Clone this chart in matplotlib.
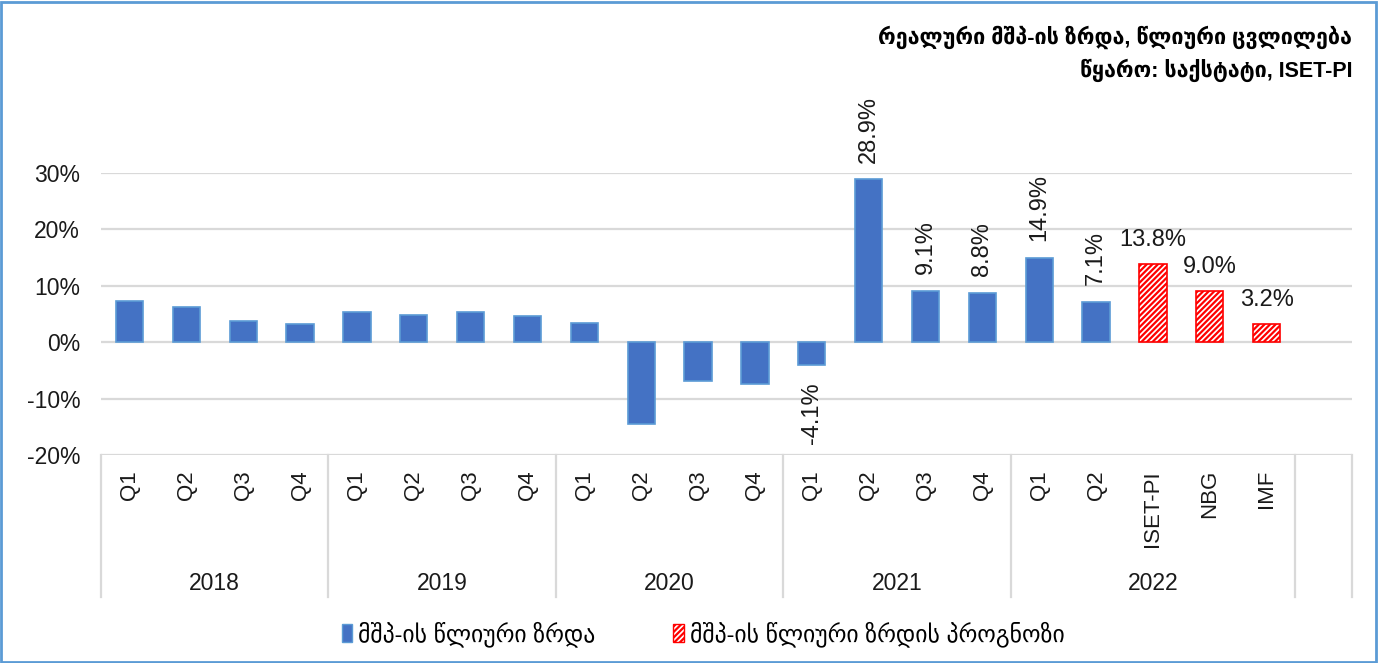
import numpy as np
import matplotlib.pyplot as plt
from matplotlib.patches import Rectangle, Patch
from matplotlib.lines import Line2D

plt.rcParams['font.family'] = ['Liberation Sans', 'DejaVu Sans']
plt.rcParams['hatch.linewidth'] = 1.6

# Données
categories = ['Q1', 'Q2', 'Q3', 'Q4', 'Q1', 'Q2', 'Q3', 'Q4', 'Q1', 'Q2', 'Q3', 'Q4',
              'Q1', 'Q2', 'Q3', 'Q4', 'Q1', 'Q2', 'ISET-PI', 'NBG', 'IMF', '']
years = ['2018', '2019', '2020', '2021', '2022', '']
year_sizes = [4, 4, 4, 4, 5, 1]
growth = [7.3, 6.2, 3.7, 3.3, 5.3, 4.9, 5.4, 4.7, 3.4, -14.5, -6.8, -7.4,
          -4.1, 28.9, 9.1, 8.8, 14.9, 7.1]
forecast = [13.8, 9.0, 3.2]
yticks = [-20, -10, 0, 10, 20, 30]
n_labelled_from = 12  # étiquettes à partir de 2021

title_1 = 'რეალური მშპ-ის ზრდა, წლიური ცვლილება'
title_2 = 'წყარო: საქსტატი, ISET-PI'
legend_labels = ['მშპ-ის წლიური ზრდა', 'მშპ-ის წლიური ზრდის პროგნოზი']

blue = '#4472C4'
blue_edge = '#5B9BD5'
red = '#FF0000'
grid_col = '#D9D9D9'
txt_col = '#1a1a1a'

fig = plt.figure(figsize=(13.79, 6.63), dpi=100)
ax = fig.add_axes([101 / 1379, 1 - 455 / 663, (1352 - 101) / 1379, (455 - 173) / 663])

x_all = np.arange(len(categories))
x_g = x_all[:len(growth)]
x_f = x_all[len(growth):len(growth) + len(forecast)]

bars_g = ax.bar(x_g, growth, width=0.48, color=blue, edgecolor=blue_edge, linewidth=1.2, zorder=3)
bars_f = ax.bar(x_f, forecast, width=0.48, color='white', edgecolor=red, hatch='//////',
                linewidth=1.2, zorder=3)

# Étiquettes
lab_g = ['' if i < n_labelled_from else f'{v:.1f}%' for i, v in enumerate(growth)]
ax.bar_label(bars_g, labels=lab_g, rotation=90, padding=12, fontsize=17, color=txt_col)
ax.bar_label(bars_f, labels=[f'{v:.1f}%' for v in forecast], padding=9.5, fontsize=17,
             color=txt_col)

ax.set_xlim(-0.5, len(categories) - 0.5)
ax.set_ylim(-20, 30)
ax.set_yticks(yticks)
ax.set_yticklabels([f'{v}%' for v in yticks], fontsize=16.5, color=txt_col)
ax.tick_params(axis='y', length=0, pad=15)
ax.set_xticks([])
for s in ax.spines.values():
    s.set_visible(False)
ax.grid(axis='y', color=grid_col, linewidth=1.6, zorder=0)
ax.set_axisbelow(True)

# Axe des catégories à deux niveaux
tr = ax.get_xaxis_transform()
h = (455 - 173)
bottom = -(597 - 455) / h
for i, c in enumerate(categories):
    ax.text(i, -(470 - 455) / h, c, rotation=90, ha='center', va='top', fontsize=16,
            transform=tr, color=txt_col)
edges = np.concatenate([[0], np.cumsum(year_sizes)]) - 0.5
for e in edges:
    ax.add_line(Line2D([e, e], [0, bottom], transform=tr, color=grid_col, lw=1.6, clip_on=False))
for y, a, b in zip(years, edges[:-1], edges[1:]):
    ax.text((a + b) / 2, -(583 - 455) / h, y, ha='center', va='center', fontsize=16.5,
            transform=tr, color=txt_col)

# Titre
fig.text(1352 / 1379, 1 - 37 / 663, title_1, ha='right', va='center', fontsize=15.5,
         fontweight='bold')
fig.text(1352 / 1379, 1 - 70 / 663, title_2, ha='right', va='center', fontsize=15.5,
         fontweight='bold')

# Légende
handles = [Patch(facecolor=blue, edgecolor=blue_edge),
           Patch(facecolor='white', edgecolor=red, hatch='//////')]
fig.legend(handles, legend_labels, loc='center', bbox_to_anchor=(0.51, 1 - 634 / 663), ncol=2,
           frameon=False, fontsize=17, handlelength=0.45, handleheight=0.8,
           handletextpad=0.25, columnspacing=3.3)

# Cadre
fig.patches.append(Rectangle((0.001, 0.002), 0.997, 0.995, transform=fig.transFigure,
                             fill=False, edgecolor=blue_edge, linewidth=2))

plt.savefig('out.png', dpi=100)
